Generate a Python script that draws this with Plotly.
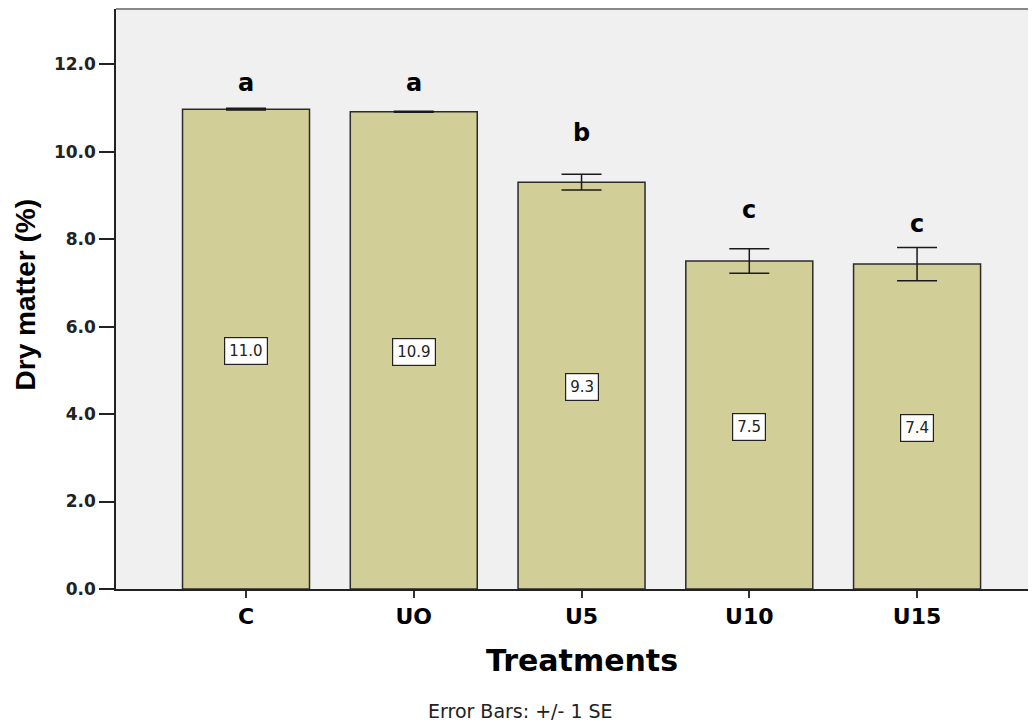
import plotly.graph_objects as go

categories = ["C", "UO", "U5", "U10", "U15"]
means = [10.97, 10.91, 9.30, 7.50, 7.43]
se = [0.02, 0.01, 0.18, 0.28, 0.38]
value_labels = ["11.0", "10.9", "9.3", "7.5", "7.4"]
letters = ["a", "a", "b", "c", "c"]
letter_y = [11.57, 11.57, 10.42, 8.66, 8.34]
y_ticks = [0, 2, 4, 6, 8, 10, 12]

xpos = list(range(len(categories)))
BOLD_WIDE = "DejaVu Sans"

fig = go.Figure()
fig.add_trace(go.Bar(
    x=xpos, y=means, width=0.757,
    marker=dict(color="#D2CE97", line=dict(color="#2b2b2b", width=1.5)),
    error_y=dict(type="data", array=se, visible=True, color="#1a1a1a",
                 thickness=1.5, width=20),
    showlegend=False, hoverinfo="skip",
))

for i, (m, lab) in enumerate(zip(means, value_labels)):
    fig.add_annotation(x=xpos[i], y=m / 2 - 0.04, text=lab, showarrow=False,
                       font=dict(family="DejaVu Sans", size=15, color="#222"),
                       bgcolor="white", bordercolor="#222", borderwidth=1.2, borderpad=4)

for i, (ly, lt) in enumerate(zip(letter_y, letters)):
    fig.add_annotation(x=xpos[i], y=ly, text="<b>%s</b>" % lt, showarrow=False,
                       yanchor="middle",
                       font=dict(family=BOLD_WIDE, size=24, color="black"))

# axis titles and footnote
fig.add_annotation(xref="paper", yref="paper", x=0.507, y=-0.124, yanchor="middle",
                   text="<b>Treatments</b>", showarrow=False,
                   font=dict(family=BOLD_WIDE, size=30, color="black"))
fig.add_annotation(xref="paper", yref="paper", x=-0.0984, y=0.507, textangle=-90,
                   xanchor="center", yanchor="middle",
                   text="<b>Dry matter (%)</b>", showarrow=False,
                   font=dict(family="Arial, Liberation Sans", size=28, color="black"))
fig.add_annotation(xref="paper", yref="paper", x=0.440, y=-0.210, yanchor="middle",
                   text="Error Bars: +/- 1 SE", showarrow=False,
                   font=dict(family="DejaVu Sans", size=19, color="#222"))

fig.update_layout(
    width=1028, height=717,
    margin=dict(l=108, r=0, t=1, b=136),
    paper_bgcolor="white", plot_bgcolor="#F0F0F0",
    xaxis=dict(
        range=[-0.775, 4.709], tickmode="array", tickvals=xpos,
        ticktext=["<b>%s</b>" % c for c in categories],
        showline=True, linecolor="#222", linewidth=1.5, mirror=False,
        ticks="outside", ticklen=7, tickwidth=1.5, tickcolor="#333",
        showgrid=False, zeroline=False,
        tickfont=dict(family=BOLD_WIDE, size=22, color="black"),
    ),
    yaxis=dict(
        range=[0, 13.26], tickmode="array", tickvals=y_ticks,
        ticktext=["<b>%.1f</b>" % v for v in y_ticks],
        showline=True, linecolor="#222", linewidth=1.5,
        ticks="outside", ticklen=15, tickwidth=1.5, tickcolor="#222",
        showgrid=False, zeroline=False,
        tickfont=dict(family="DejaVu Sans", size=17, color="#222"),
    ),
)

fig.add_shape(type="line", xref="paper", yref="paper", x0=0, x1=1, y0=1, y1=1,
              line=dict(color="#888", width=2))

fig.write_html("out.html", config={"displayModeBar": False})
